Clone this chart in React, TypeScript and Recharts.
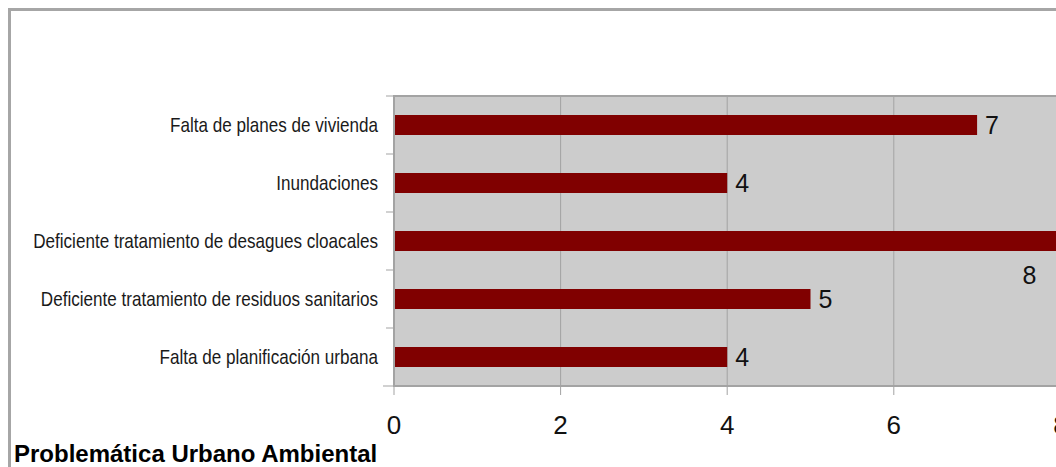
import React from "react";
import {
  BarChart,
  Bar,
  XAxis,
  YAxis,
  CartesianGrid,
  LabelList,
  ReferenceArea,
} from "recharts";

const problems = [
  "Falta de planes de vivienda",
  "Inundaciones",
  "Deficiente tratamiento de desagues cloacales",
  "Deficiente tratamiento de residuos sanitarios",
  "Falta de planificación urbana",
];
const counts = [7, 4, 8, 5, 4];
const xTicks = [0, 2, 4, 6, 8, 10];
const chartTitle = "Problemática Urbano Ambiental";

const FONT = "'Liberation Sans', Arial, sans-serif";
const GRAY = "#a3a3a3";
const PLOT_H = 290;
const BAND = PLOT_H / problems.length;
const maxCount = Math.max(...counts);

const data = problems.map((name, i) => ({ name, value: counts[i] }));

const CategoryTick = (props: any) => {
  const { x, y, payload, index } = props;
  const last = index === problems.length - 1;
  return (
    <g>
      <line x1={x - 8} x2={x} y1={y - BAND / 2} y2={y - BAND / 2} stroke={GRAY} />
      {last && (
        <line x1={x - 11} x2={x} y1={y + BAND / 2} y2={y + BAND / 2} stroke={GRAY} />
      )}
      <text
        transform={`translate(${x - 16},${y + 7}) scale(0.855,1)`}
        textAnchor="end"
        fontSize={20}
        fontFamily={FONT}
        fill="#1a1a1a"
      >
        {payload.value}
      </text>
    </g>
  );
};

const ValueTick = (props: any) => {
  const { x, y, payload } = props;
  return (
    <g>
      <line x1={x} x2={x} y1={y} y2={y + 9} stroke={GRAY} />
      <text
        x={x}
        y={y + 48}
        textAnchor="middle"
        fontSize={26}
        fontFamily={FONT}
        fill="#111"
      >
        {payload.value}
      </text>
    </g>
  );
};

const ValueLabel = (props: any) => {
  const { x, y, width, height, value } = props;
  const cy = y + height / 2;
  if (value === maxCount) {
    return (
      <text
        x={x + width - 31}
        y={cy + 43}
        textAnchor="middle"
        fontSize={25}
        fontFamily={FONT}
        fill="#111"
      >
        {value}
      </text>
    );
  }
  return (
    <text x={x + width + 8} y={cy + 9} fontSize={25} fontFamily={FONT} fill="#111">
      {value}
    </text>
  );
};

export default function App() {
  return (
    <div
      style={{
        position: "fixed",
        left: 0,
        top: 0,
        width: 1056,
        height: 467,
        overflow: "hidden",
        background: "#fff",
      }}
    >
      <div
        style={{
          position: "absolute",
          left: 8,
          top: 8,
          width: 1400,
          height: 560,
          border: "3px solid #a6a6a6",
          background: "#fff",
        }}
      >
        <BarChart
          width={1300}
          height={500}
          data={data}
          layout="vertical"
          margin={{ top: 85, right: 84, bottom: 65, left: 0 }}
          barSize={20}
        >
          <CartesianGrid
            horizontal={false}
            stroke={GRAY}
            fill="#cccccc"
            verticalValues={xTicks}
          />
          <XAxis
            type="number"
            domain={[0, 10]}
            ticks={xTicks}
            height={60}
            tickSize={0}
            tickMargin={0}
            tickLine={false}
            axisLine={{ stroke: GRAY, strokeWidth: 2 }}
            tick={<ValueTick />}
          />
          <YAxis
            type="category"
            dataKey="name"
            width={383}
            tickSize={0}
            tickMargin={0}
            tickLine={false}
            axisLine={{ stroke: GRAY, strokeWidth: 2 }}
            tick={<CategoryTick />}
            interval={0}
          />
          <ReferenceArea x1={0} x2={10} fill="none" stroke={GRAY} strokeWidth={2} />
          <Bar dataKey="value" fill="#800000" isAnimationActive={false}>
            <LabelList dataKey="value" content={<ValueLabel />} />
          </Bar>
        </BarChart>
      </div>
      <svg
        width={1056}
        height={467}
        style={{ position: "absolute", left: 0, top: 0, pointerEvents: "none" }}
      >
        <text x={14} y={462} fontSize={24} fontWeight="bold" fontFamily={FONT} fill="#000">
          {chartTitle}
        </text>
      </svg>
    </div>
  );
}
